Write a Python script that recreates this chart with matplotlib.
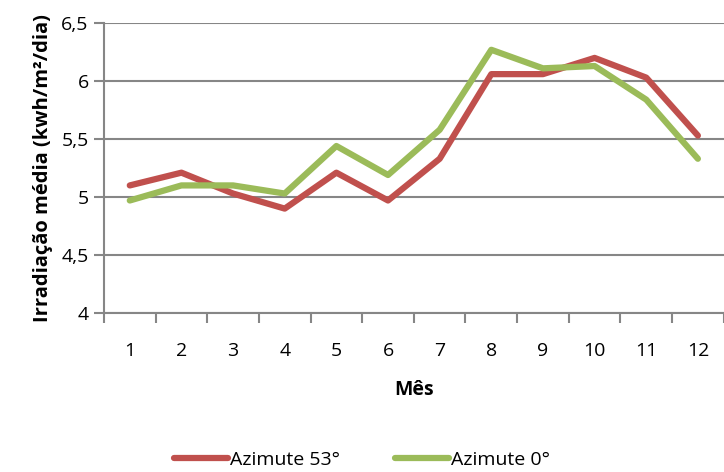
import matplotlib.pyplot as plt
import numpy as np

meses = ['1', '2', '3', '4', '5', '6', '7', '8', '9', '10', '11', '12']
azimute_53 = [5.10, 5.21, 5.03, 4.90, 5.21, 4.97, 5.33, 6.06, 6.06, 6.20, 6.03, 5.53]
azimute_0 = [4.97, 5.10, 5.10, 5.03, 5.44, 5.19, 5.58, 6.27, 6.11, 6.13, 5.84, 5.33]

plt.rcParams['font.family'] = ['Open Sans', 'DejaVu Sans']

fig = plt.figure(figsize=(7.24, 4.72), dpi=100)
ax = fig.add_axes([0.1436, 0.337, 0.856, 0.614])

x = np.arange(len(meses))
ax.plot(x, azimute_53, color='#C0504D', lw=4.5, label='Azimute 53°', solid_capstyle='round')
ax.plot(x, azimute_0, color='#9BBB59', lw=4.5, label='Azimute 0°', solid_capstyle='round')

ax.set_xlim(-0.5, 11.5)
ax.set_ylim(4, 6.5)
ax.set_yticks([4, 4.5, 5, 5.5, 6, 6.5])
ax.set_yticklabels(['4', '4,5', '5', '5,5', '6', '6,5'], fontsize=14)
ax.set_xticks(x)
ax.set_xticklabels(meses, fontsize=14)
ax.set_xticks(np.arange(-0.5, 12, 1), minor=True)
ax.tick_params(axis='x', which='major', length=0, pad=21)
ax.tick_params(axis='x', which='minor', length=7, width=1.5, color='#868686')
ax.tick_params(axis='y', length=7, width=1.5, color='#868686', pad=4)

ax.grid(axis='y', color='#868686', lw=1.5)
ax.set_axisbelow(True)
for s in ['top', 'right']:
    ax.spines[s].set_visible(False)
for s in ['left', 'bottom']:
    ax.spines[s].set_color('#868686')
    ax.spines[s].set_linewidth(1.5)

ax.set_xlabel('Mês', fontsize=14, fontweight='bold', labelpad=14)
ax.set_ylabel('Irradiação média (kwh/m²/dia)', fontsize=14.5, fontweight='bold', labelpad=6)

fig.legend(loc='lower center', bbox_to_anchor=(0.5, -0.03), ncol=2, frameon=False,
           fontsize=14, handlelength=2.8, columnspacing=2.8, handletextpad=0.1)

fig.savefig('out.png', dpi=100)
